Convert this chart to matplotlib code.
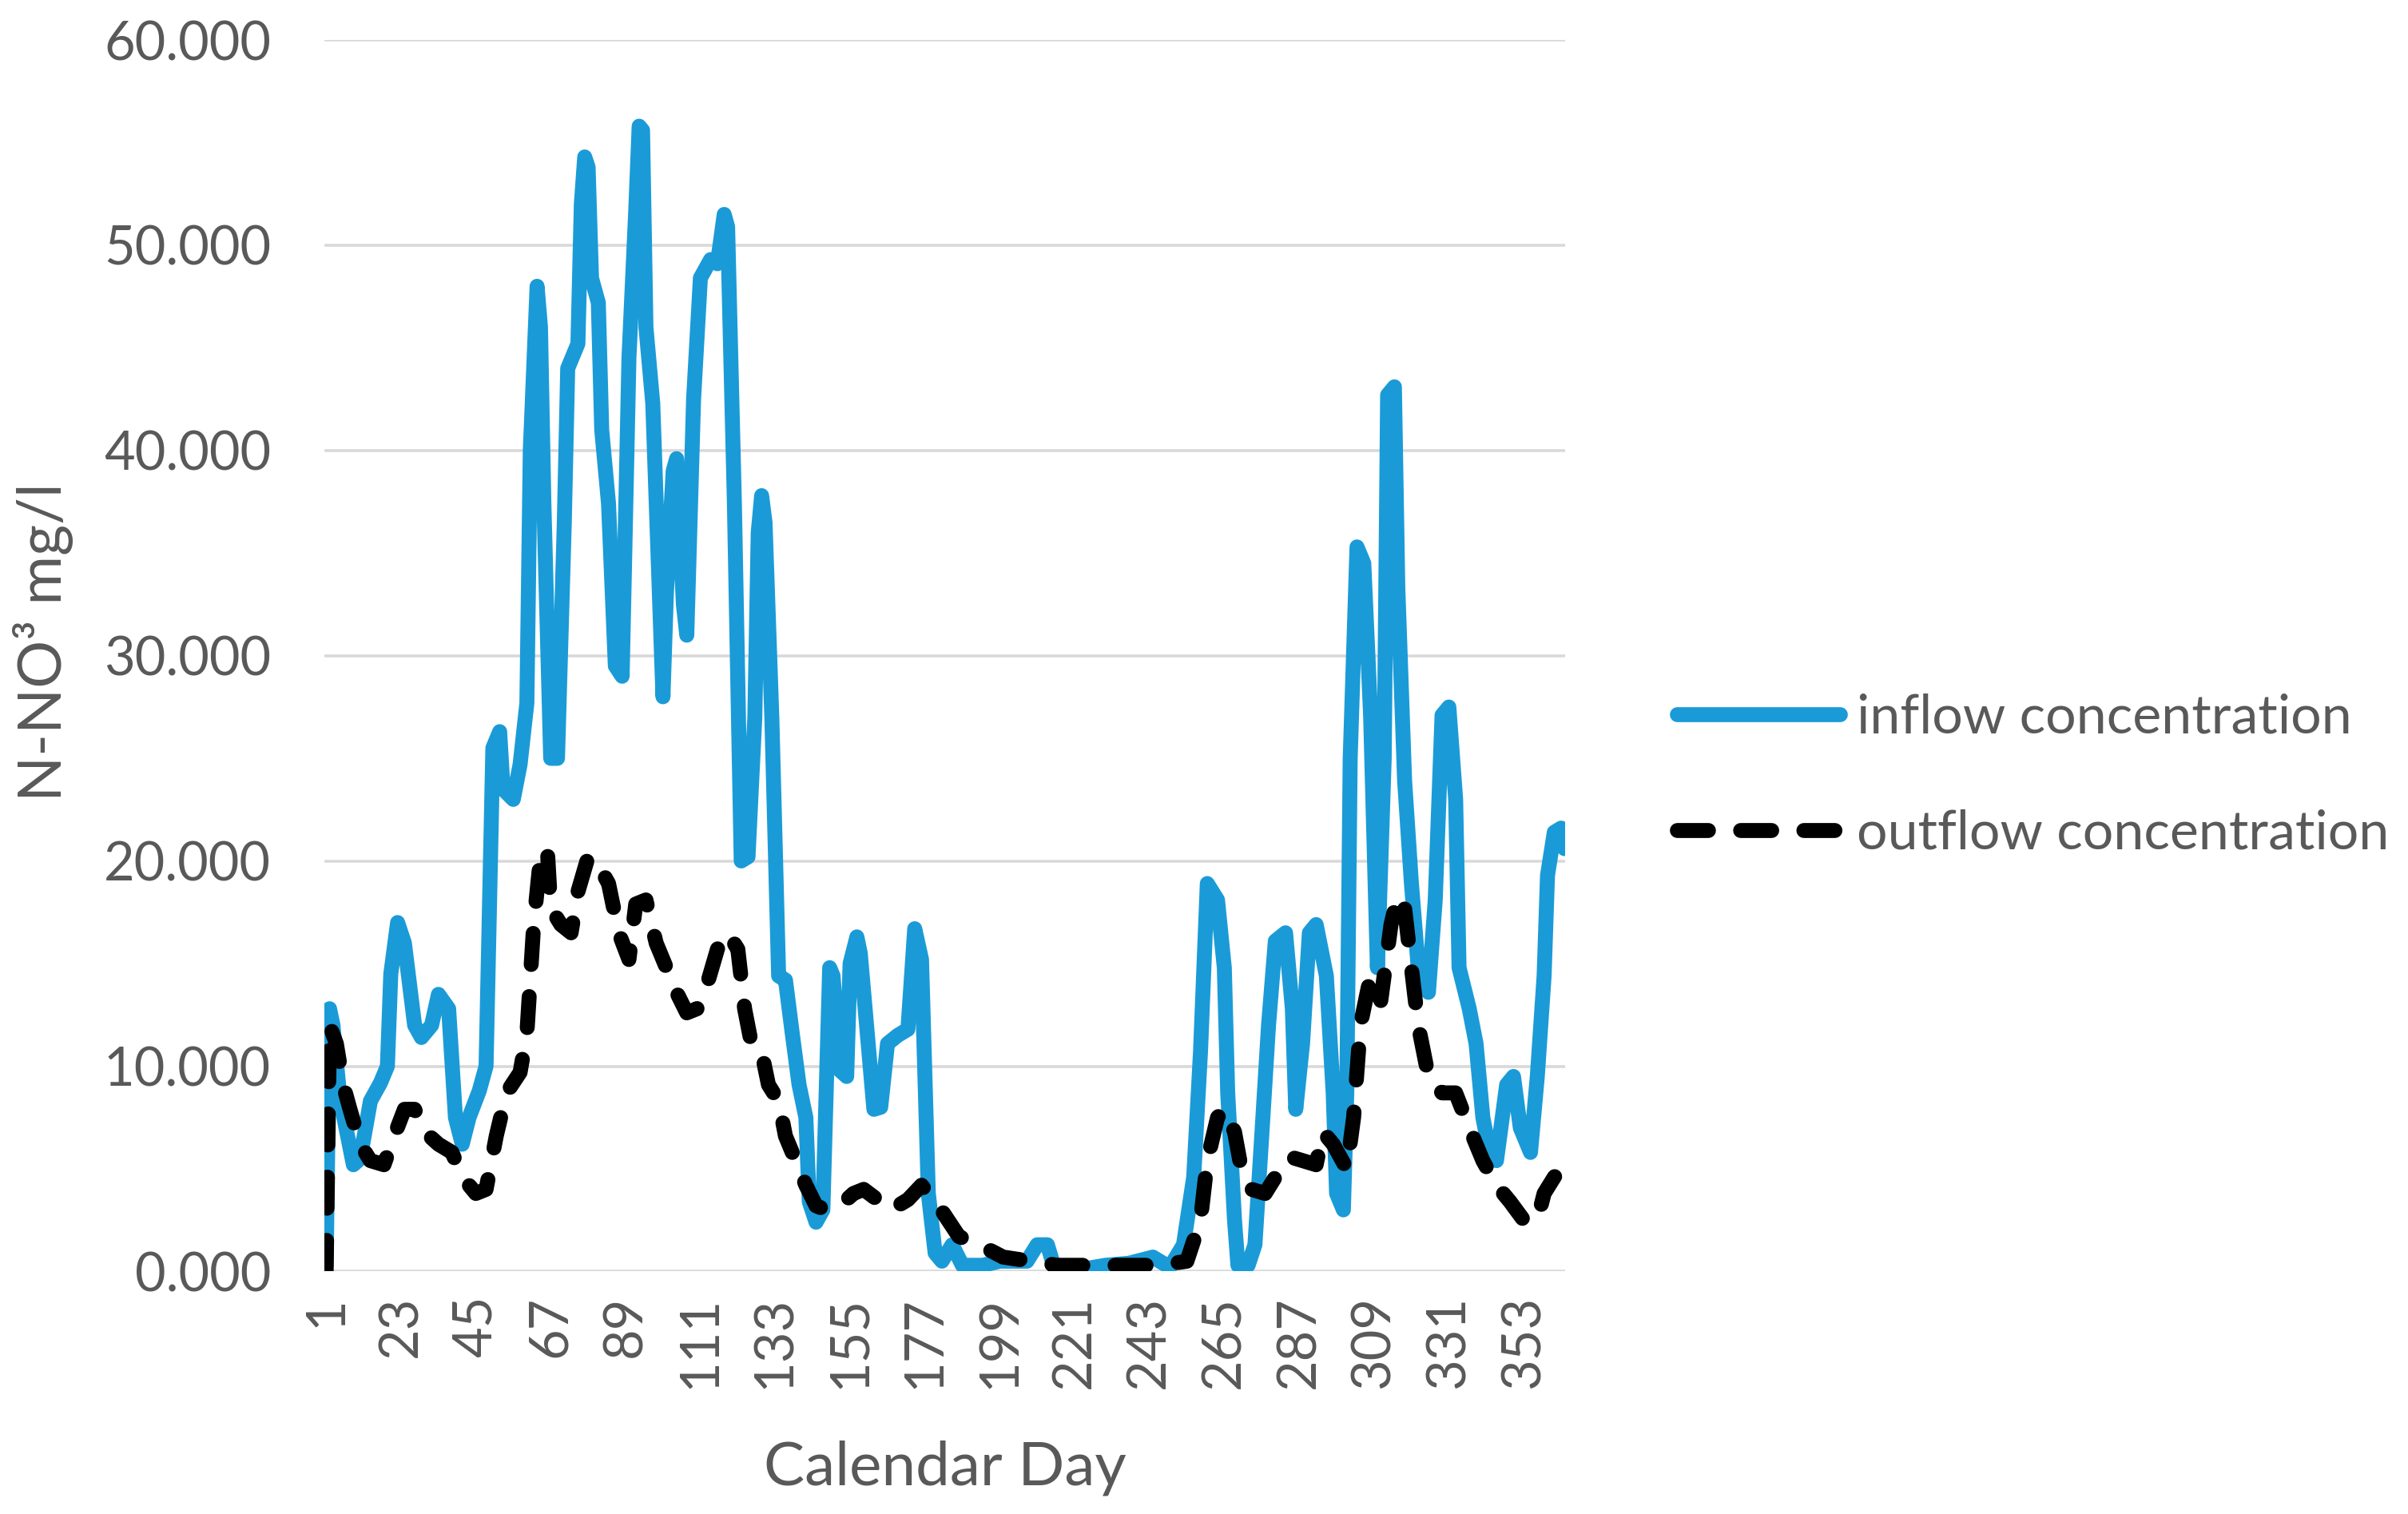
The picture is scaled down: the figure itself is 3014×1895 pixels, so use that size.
import matplotlib
matplotlib.use("Agg")
import matplotlib.pyplot as plt
from matplotlib.ticker import FormatStrFormatter

# values (day, mg/l)
inflow_day = [1, 2, 3, 5, 9, 11, 14, 17, 19, 20, 22, 24, 27, 29, 32, 34, 37, 39, 41, 43,
              46, 48, 50, 52, 53, 56, 58, 60, 61, 63, 64, 65, 67, 69, 71, 72, 75, 76, 77, 78,
              79, 81, 82, 84, 86, 88, 90, 92, 93, 94, 95, 97, 100, 101, 103, 104, 106, 107, 109, 111,
              114, 116, 118, 119, 121, 123, 125, 127, 128, 129, 130, 132, 134, 136, 138, 140, 142, 143, 145, 147,
              149, 150, 152, 154, 155, 157, 158, 162, 164, 166, 169, 172, 174, 176, 178, 180, 182, 185, 188, 194,
              199, 207, 210, 213, 215, 223, 230, 237, 244, 249, 253, 256, 258, 260, 263, 265, 266, 268, 269, 272,
              274, 276, 278, 280, 283, 285, 286, 288, 290, 292, 295, 297, 298, 300, 301, 302, 304, 306, 308, 310,
              312, 313, 315, 316, 318, 320, 322, 325, 327, 329, 331, 333, 334, 337, 339, 341, 343, 345, 348, 350,
              352, 355, 357, 359, 360, 362, 364, 365]
inflow_val = [0.3, 12.8, 12.0, 8.5, 5.2, 5.5, 8.3, 9.2, 10.0, 14.5, 17.0, 16.0, 12.0, 11.4, 12.0, 13.5, 12.8, 7.5, 6.2, 7.5,
              8.8, 10.0, 25.5, 26.3, 23.5, 23.0, 24.7, 27.7, 40.0, 48.0, 46.0, 37.4, 25.0, 25.0, 36.5, 44.0, 45.2, 52.0, 54.3, 53.8,
              48.4, 47.2, 41.0, 37.4, 29.5, 29.0, 44.5, 51.7, 55.8, 55.6, 46.0, 42.3, 28.0, 33.0, 39.0, 39.6, 32.5, 31.0, 42.5, 48.4,
              49.3, 49.1, 51.5, 50.9, 37.4, 20.0, 20.2, 27.0, 36.0, 37.8, 36.5, 27.0, 14.4, 14.2, 11.6, 9.1, 7.5, 3.4, 2.4, 3.0,
              14.8, 14.4, 9.8, 9.5, 15.0, 16.3, 15.5, 7.9, 8.0, 11.1, 11.5, 11.8, 16.7, 15.2, 3.8, 0.9, 0.5, 1.3, 0.3, 0.3,
              0.5, 0.5, 1.3, 1.3, 0.2, 0.1, 0.3, 0.4, 0.7, 0.2, 1.3, 4.6, 10.7, 18.9, 18.1, 14.8, 8.7, 2.5, 0.3, 0.3,
              1.3, 6.6, 12.0, 16.1, 16.5, 12.8, 7.9, 11.1, 16.5, 16.9, 14.4, 8.7, 3.8, 3.0, 8.7, 25.0, 35.3, 34.5, 27.1, 14.8,
              25.0, 42.7, 43.1, 33.3, 23.9, 18.9, 14.8, 13.6, 18.1, 27.1, 27.5, 23.0, 14.8, 12.8, 11.1, 7.5, 5.8, 5.4, 9.1, 9.5,
              7.0, 5.8, 9.5, 14.4, 19.3, 21.4, 21.6, 20.6]

outflow_day = [1, 2, 4, 6, 8, 11, 14, 18, 21, 24, 27, 30, 34, 38, 41, 45, 48, 51, 54, 58,
               60, 62, 64, 66, 67, 70, 73, 75, 78, 81, 84, 87, 90, 92, 95, 98, 101, 104, 107, 110,
               113, 116, 119, 122, 124, 126, 129, 131, 134, 136, 139, 142, 145, 148, 152, 156, 159, 163, 167, 172,
               176, 181, 187, 193, 200, 208, 216, 223, 246, 254, 258, 260, 263, 265, 268, 270, 273, 277, 280, 284,
               288, 292, 294, 297, 301, 303, 305, 308, 311, 314, 316, 318, 320, 322, 325, 329, 333, 337, 341, 345,
               349, 353, 357, 359, 362, 365]
outflow_val = [0.0, 12.0, 11.1, 9.1, 7.9, 6.2, 5.4, 5.2, 6.6, 7.9, 7.9, 6.8, 6.2, 5.8, 4.6, 3.8, 4.0, 6.6, 8.7, 9.7,
               11.6, 16.9, 20.2, 20.6, 17.7, 16.9, 16.5, 18.5, 20.2, 19.8, 18.9, 16.5, 15.2, 17.9, 18.1, 16.0, 14.8, 13.6, 12.6, 12.8,
               14.0, 15.7, 16.5, 15.7, 12.8, 11.1, 10.7, 9.1, 8.3, 6.6, 5.4, 4.2, 3.2, 3.0, 3.2, 3.8, 4.0, 3.5, 3.0, 3.5,
               4.2, 3.2, 1.7, 1.3, 0.7, 0.5, 0.3, 0.3, 0.3, 0.5, 2.5, 5.4, 7.5, 7.9, 6.8, 5.0, 4.0, 3.8, 4.6, 5.6,
               5.4, 5.2, 6.8, 6.2, 5.0, 7.5, 12.0, 14.4, 13.2, 16.9, 18.3, 17.7, 14.8, 12.0, 9.5, 8.7, 8.7, 7.0, 5.4, 4.2,
               3.4, 2.5, 2.5, 3.8, 4.6, 5.2]

x_ticks = list(range(1, 366, 22))
y_ticks = [0, 10, 20, 30, 40, 50, 60]

plt.rcParams['font.family'] = ['Lato', 'DejaVu Sans']
plt.rcParams['lines.scale_dashes'] = False
grey = '#595959'

fig = plt.figure(figsize=(30.14, 18.95), dpi=100)
ax = fig.add_axes([0.1346, 0.1602, 0.650 - 0.1346, 0.9736 - 0.1602])

ax.plot(inflow_day, inflow_val, color='#1a9bd7', lw=13.5, solid_joinstyle='round',
        solid_capstyle='round', label='inflow concentration', zorder=3)
ax.plot(outflow_day, outflow_val, color='black', lw=13.5, dashes=(28, 29),
        dash_capstyle='round', dash_joinstyle='round', label='outflow concentration', zorder=4)

ax.set_xlim(0.4, 365.2)
ax.set_ylim(0, 60)
ax.set_yticks(y_ticks)
ax.yaxis.set_major_formatter(FormatStrFormatter('%.3f'))
ax.set_xticks(x_ticks)
ax.set_xticklabels([str(d) for d in x_ticks], rotation=90)
ax.tick_params(axis='both', length=0, labelsize=48, colors=grey)
ax.tick_params(axis='x', pad=22)
ax.tick_params(axis='y', pad=48)
ax.grid(axis='y', color='#d9d9d9', lw=2.6)
ax.set_axisbelow(True)
for s in ax.spines.values():
    s.set_visible(False)

ax.set_xlabel('Calendar Day', fontsize=55, color=grey)
ax.xaxis.set_label_coords(0.5, -0.137)
ax.set_ylabel('N-NO³ mg/l', fontsize=54, color=grey)
ax.yaxis.set_label_coords(-0.202, 0.511)

leg = fig.legend(loc='center left', bbox_to_anchor=(0.6965, 0.4876), frameon=False,
                 fontsize=49, handlelength=3.0, handletextpad=0.3, labelspacing=1.22,
                 borderpad=0, borderaxespad=0)
for t in leg.get_texts():
    t.set_color(grey)

fig.savefig('out.png', dpi=100)
